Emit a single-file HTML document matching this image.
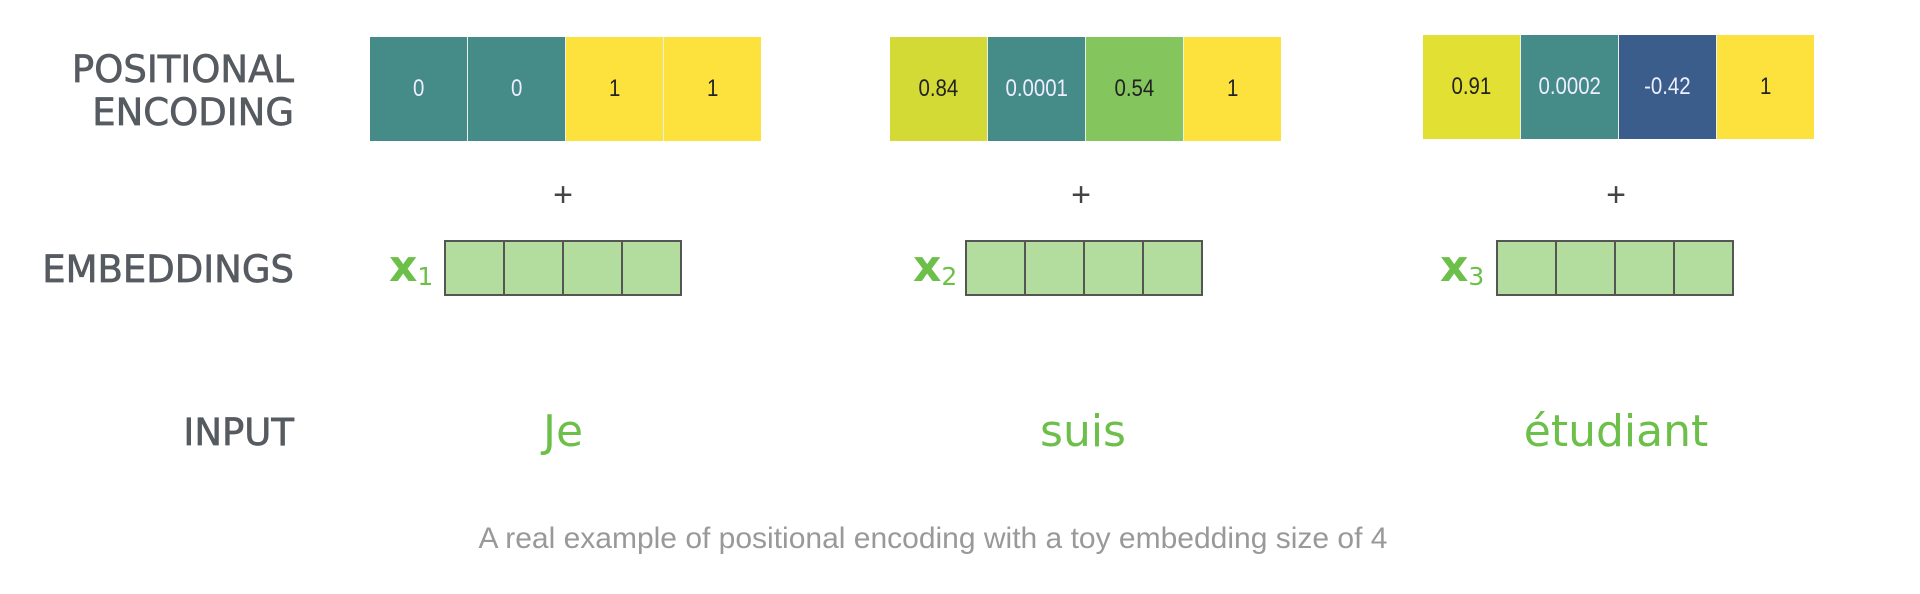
<!DOCTYPE html>
<html><head><meta charset="utf-8"><style>
body{margin:0;width:1920px;height:594px;background:#fff;position:relative;overflow:hidden;font-family:"Liberation Sans",sans-serif}
.lab{position:absolute;right:1626px;color:#565b61;text-align:right;line-height:43px;font-family:"DejaVu Sans","Liberation Sans",sans-serif;font-size:37px;-webkit-text-stroke:0.7px #565b61}
.pe{position:absolute;display:flex;height:104px}
.pe div{width:97px;height:104px;border-left:1px solid #e8f0e8;display:flex;align-items:center;justify-content:center;font-size:24px}
.pe div span{display:inline-block;transform:scaleX(0.85)}
.pe div:first-child{border-left:none}
.emb{position:absolute;display:flex;top:240px;height:52px;border:2px solid #555;background:#b2dd9e}
.emb div{width:57px;border-left:2px solid #555}
.emb div:first-child{border-left:none}
.plus{position:absolute;top:176px;font-size:34px;color:#444;transform:translateX(-50%)}
.x{position:absolute;top:241px;color:#6cc04a;font-size:44px;font-weight:bold;font-family:"DejaVu Sans",sans-serif}
.x sub{font-size:25px;font-weight:normal;vertical-align:-4px}
.w{position:absolute;top:406px;color:#6cc04a;font-size:44px;transform:translateX(-50%);font-family:"DejaVu Sans","Liberation Sans",sans-serif}
</style></head><body>
<div class="lab" style="top:48px">POSITIONAL<br>ENCODING</div>
<div class="lab" style="top:248px">EMBEDDINGS</div>
<div class="lab" style="top:411px">INPUT</div>

<div class="pe" style="left:370px;top:37px">
<div style="background:#458b88;color:#eef"><span>0</span></div><div style="background:#458b88;color:#eef"><span>0</span></div><div style="background:#fde23e;color:#222"><span>1</span></div><div style="background:#fde23e;color:#222"><span>1</span></div></div>
<div class="pe" style="left:890px;top:37px">
<div style="background:#d3da35;color:#222"><span>0.84</span></div><div style="background:#458b88;color:#eef"><span>0.0001</span></div><div style="background:#84c55e;color:#222"><span>0.54</span></div><div style="background:#fde23e;color:#222"><span>1</span></div></div>
<div class="pe" style="left:1423px;top:35px">
<div style="background:#e3e034;color:#222"><span>0.91</span></div><div style="background:#458b88;color:#eef"><span>0.0002</span></div><div style="background:#3a5d8b;color:#eef"><span>-0.42</span></div><div style="background:#fde23e;color:#222"><span>1</span></div></div>

<div class="plus" style="left:563px">+</div>
<div class="plus" style="left:1081px">+</div>
<div class="plus" style="left:1616px">+</div>

<div class="x" style="left:389px">x<sub>1</sub></div>
<div class="x" style="left:913px">x<sub>2</sub></div>
<div class="x" style="left:1440px">x<sub>3</sub></div>
<div class="emb" style="left:444px"><div></div><div></div><div></div><div></div></div>
<div class="emb" style="left:965px"><div></div><div></div><div></div><div></div></div>
<div class="emb" style="left:1496px"><div></div><div></div><div></div><div></div></div>

<div class="w" style="left:563px">Je</div>
<div class="w" style="left:1083px">suis</div>
<div class="w" style="left:1616px">étudiant</div>

<div style="position:absolute;left:0;width:1866px;text-align:center;top:522px;color:#999;font-size:30px">A real example of positional encoding with a toy embedding size of 4</div>
</body></html>
